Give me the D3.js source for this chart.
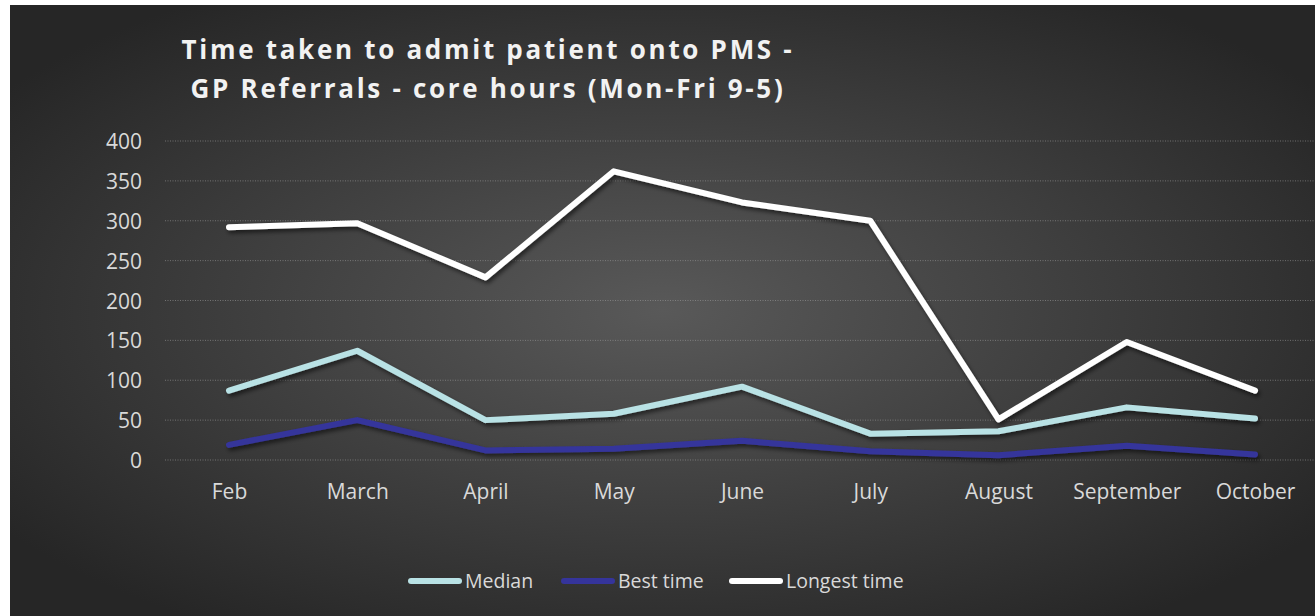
<!DOCTYPE html>
<html><head><meta charset="utf-8">
<script src="https://cdn.jsdelivr.net/npm/d3@7"></script>
<style>body{margin:0;background:#fff;} svg{display:block;}</style>
</head><body>
<svg id="c" width="1315" height="616"></svg>
<script>
const months = ["Feb","March","April","May","June","July","August","September","October"];
const median = [87,137,50,58,92,33,36,66,52];
const bestTime = [19,50,12,14,24,11,6,18,7];
const longestTime = [292,297,229,362,323,300,51,148,87];
const yTicks = [0,50,100,150,200,250,300,350,400];
const seriesNames = ["Median","Best time","Longest time"];
const seriesColors = ["#b9e2e5","#35349b","#ffffff"];
const titleLines = ["Time taken to admit patient onto PMS -","GP Referrals - core hours (Mon-Fri 9-5)"];

const svg = d3.select("#c");
const defs = svg.append("defs");
const rg = defs.append("radialGradient").attr("id","bg").attr("cx","50%").attr("cy","50%").attr("r","62%")
  .attr("gradientUnits","objectBoundingBox");
rg.append("stop").attr("offset","0%").attr("stop-color","#595959");
rg.append("stop").attr("offset","100%").attr("stop-color","#262626");
const f = defs.append("filter").attr("id","sh").attr("x","-10%").attr("y","-10%").attr("width","120%").attr("height","130%");
f.append("feDropShadow").attr("dx",2).attr("dy",3).attr("stdDeviation",2).attr("flood-color","#000").attr("flood-opacity",0.55);

svg.append("rect").attr("x",10).attr("y",5).attr("width",1305).attr("height",611).attr("fill","url(#bg)");

const x = d3.scalePoint().domain(months).range([229,1255]);
const y = d3.scaleLinear().domain([0,400]).range([460,141]);

// grid
svg.append("g").selectAll("line").data(yTicks).join("line")
  .attr("x1",165).attr("x2",1315).attr("y1",d=>y(d)).attr("y2",d=>y(d))
  .attr("stroke","#9a9a9a").attr("stroke-width",1).attr("stroke-dasharray","1,1.5").attr("opacity",0.6);

const font = "'Open Sans', sans-serif";
// y axis labels
const yAxis = d3.axisLeft(y).tickValues(yTicks).tickSize(0).tickPadding(0);
const ga = svg.append("g").attr("transform","translate(142,0)").call(yAxis);
ga.select(".domain").remove();
ga.selectAll("text").attr("fill","#d9d9d9").style("font-family",font).style("font-size","21px").attr("dy","0.36em");

const xAxis = d3.axisBottom(x).tickSize(0).tickPadding(0);
const gx = svg.append("g").attr("transform","translate(0,499)").call(xAxis);
gx.select(".domain").remove();
gx.selectAll("text").attr("fill","#d9d9d9").style("font-family",font).style("font-size","21px").attr("y",0).attr("dy","0");

// lines
const data = [median,bestTime,longestTime];
const line = d3.line().x((d,i)=>x(months[i])).y(d=>y(d));
svg.append("g").attr("filter","url(#sh)").selectAll("path").data(data).join("path")
  .attr("d",line).attr("fill","none").attr("stroke",(d,i)=>seriesColors[i])
  .attr("stroke-width",6).attr("stroke-linejoin","round").attr("stroke-linecap","round");

// title
svg.append("text").attr("x",488).attr("y",59).attr("text-anchor","middle")
  .attr("fill","#f2f2f2").style("font-family",font).style("font-weight","bold").style("font-size","26px").style("letter-spacing","2.7px")
  .selectAll("tspan").data(titleLines).join("tspan").attr("x",488).attr("dy",(d,i)=>i?39:0).text(d=>d);

// legend
const legX = [408,561,729];
const lg = svg.append("g").selectAll("g").data(seriesNames).join("g").attr("transform",(d,i)=>`translate(${legX[i]},581)`);
lg.append("line").attr("x1",3).attr("x2",51).attr("y1",0).attr("y2",0).attr("stroke",(d,i)=>seriesColors[i]).attr("stroke-width",6).attr("stroke-linecap","round");
lg.append("text").attr("x",57).attr("dy","0.36em").attr("fill","#d9d9d9").style("font-family",font).style("font-size","19.5px").text(d=>d);
</script>
</body></html>
